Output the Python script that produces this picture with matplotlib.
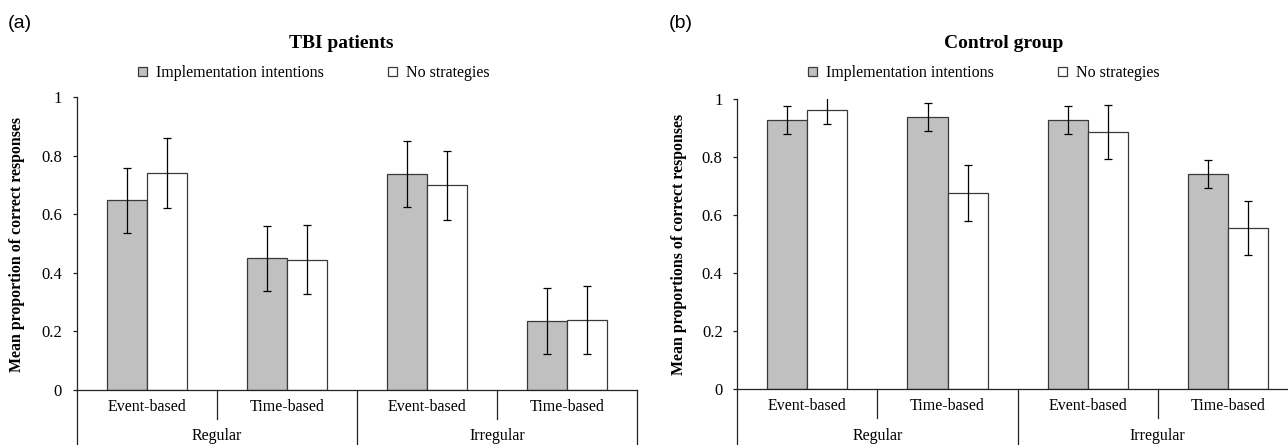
import matplotlib
matplotlib.use("Agg")
import matplotlib.pyplot as plt
import matplotlib.transforms as mtransforms
import numpy as np

# ---- data ----
conditions = ["Event-based", "Time-based", "Event-based", "Time-based"]
groups = ["Regular", "Irregular"]
series = ["Implementation intentions", "No strategies"]

tbi_impl = [0.647, 0.449, 0.737, 0.235]
tbi_impl_err = [0.112, 0.112, 0.114, 0.112]
tbi_none = [0.741, 0.445, 0.698, 0.239]
tbi_none_err = [0.119, 0.117, 0.118, 0.117]

ctl_impl = [0.928, 0.938, 0.928, 0.742]
ctl_impl_err = [0.047, 0.047, 0.047, 0.048]
ctl_none = [0.962, 0.676, 0.888, 0.555]
ctl_none_err = [0.048, 0.095, 0.093, 0.093]

yticks = [0, 0.2, 0.4, 0.6, 0.8, 1.0]
ytick_labels = ["0", "0.2", "0.4", "0.6", "0.8", "1"]

panels = [
    dict(tag="(a)", title="TBI patients",
         ylabel="Mean proportion of correct responses",
         impl=tbi_impl, impl_err=tbi_impl_err, none=tbi_none, none_err=tbi_none_err,
         pos=[76.7, 390.0, 560.6, 293.0], title_x=341, legend_x=314, tag_x=8,
         ylabel_x=17),
    dict(tag="(b)", title="Control group",
         ylabel="Mean proportions of correct responses",
         impl=ctl_impl, impl_err=ctl_impl_err, none=ctl_none, none_err=ctl_none_err,
         pos=[737.3, 389.3, 560.6, 290.3], title_x=1004, legend_x=984, tag_x=669,
         ylabel_x=679),
]

W, H = 1288, 445
fig = plt.figure(figsize=(W / 100, H / 100), dpi=100)
serif = ["Liberation Serif", "DejaVu Serif"]
sans = ["Liberation Sans", "DejaVu Sans"]

GRAY = "#c0c0c0"
EDGE = "#3a3a3a"
bw = 0.2857

for p in panels:
    x0, ybot, w, h = p["pos"]
    ax = fig.add_axes([x0 / W, (H - ybot) / H, w / W, h / H])
    x = np.arange(len(conditions))
    b1 = ax.bar(x - bw / 2, p["impl"], bw, color=GRAY, edgecolor=EDGE, linewidth=0.9,
                label=series[0], zorder=2)
    b2 = ax.bar(x + bw / 2, p["none"], bw, color="white", edgecolor=EDGE, linewidth=0.9,
                label=series[1], zorder=2)
    ax.errorbar(x - bw / 2, p["impl"], yerr=p["impl_err"], fmt="none", ecolor="black",
                elinewidth=0.9, capsize=2.6, capthick=0.9, zorder=3)
    ax.errorbar(x + bw / 2, p["none"], yerr=p["none_err"], fmt="none", ecolor="black",
                elinewidth=0.9, capsize=2.6, capthick=0.9, zorder=3)
    ax.set_xlim(-0.5, 3.5)
    ax.set_ylim(0, 1)
    ax.set_yticks(yticks)
    ax.set_yticklabels(ytick_labels, fontfamily=serif, fontsize=12)
    ax.set_xticks([])
    for s in ["top", "right"]:
        ax.spines[s].set_visible(False)
    ax.spines["left"].set_linewidth(0.9)
    ax.spines["bottom"].set_linewidth(0.9)
    ax.spines["left"].set_color("#222222")
    ax.spines["bottom"].set_color("#222222")
    ax.tick_params(axis="y", direction="out", length=3, width=0.9, pad=7.5, colors="#222222",
                   labelcolor="black")

    trans = mtransforms.blended_transform_factory(ax.transData, ax.transAxes)
    long_depth = -(H - ybot + 2) / h
    short_depth = -29.0 / h
    for xb in [-0.5, 1.5, 3.5]:
        ax.plot([xb, xb], [0, long_depth], transform=trans, color="#222222", lw=0.9,
                clip_on=False)
    for xb in [0.5, 2.5]:
        ax.plot([xb, xb], [0, short_depth], transform=trans, color="#222222", lw=0.9,
                clip_on=False)
    for i, c in enumerate(conditions):
        ax.text(i, -17.0 / h, c, transform=trans, ha="center", va="center",
                fontfamily=serif, fontsize=11.5)
    for gi, g in enumerate(groups):
        ax.text(gi * 2 + 0.5, -46.5 / h, g, transform=trans, ha="center", va="center",
                fontfamily=serif, fontsize=11.5)

    fig.text(p["ylabel_x"] / W, 1 - 244 / H, p["ylabel"], rotation=90, ha="center",
             va="center", fontfamily=serif, fontsize=11.4, fontweight="bold")
    fig.text(p["title_x"] / W, 1 - 43 / H, p["title"], ha="center", va="center",
             fontfamily=serif, fontsize=14, fontweight="bold")
    fig.text(p["tag_x"] / W, 1 - 23 / H, p["tag"], ha="left", va="center",
             fontfamily=sans, fontsize=14)
    leg = ax.legend(handles=[b1, b2], ncol=2, loc="center",
                    bbox_to_anchor=(p["legend_x"] / W, 1 - 73 / H),
                    bbox_transform=fig.transFigure, frameon=False,
                    prop={"family": serif, "size": 11.5},
                    handlelength=0.55, handleheight=0.55, handletextpad=0.6,
                    columnspacing=4.0, borderpad=0)

fig.savefig("out.png", dpi=100)
